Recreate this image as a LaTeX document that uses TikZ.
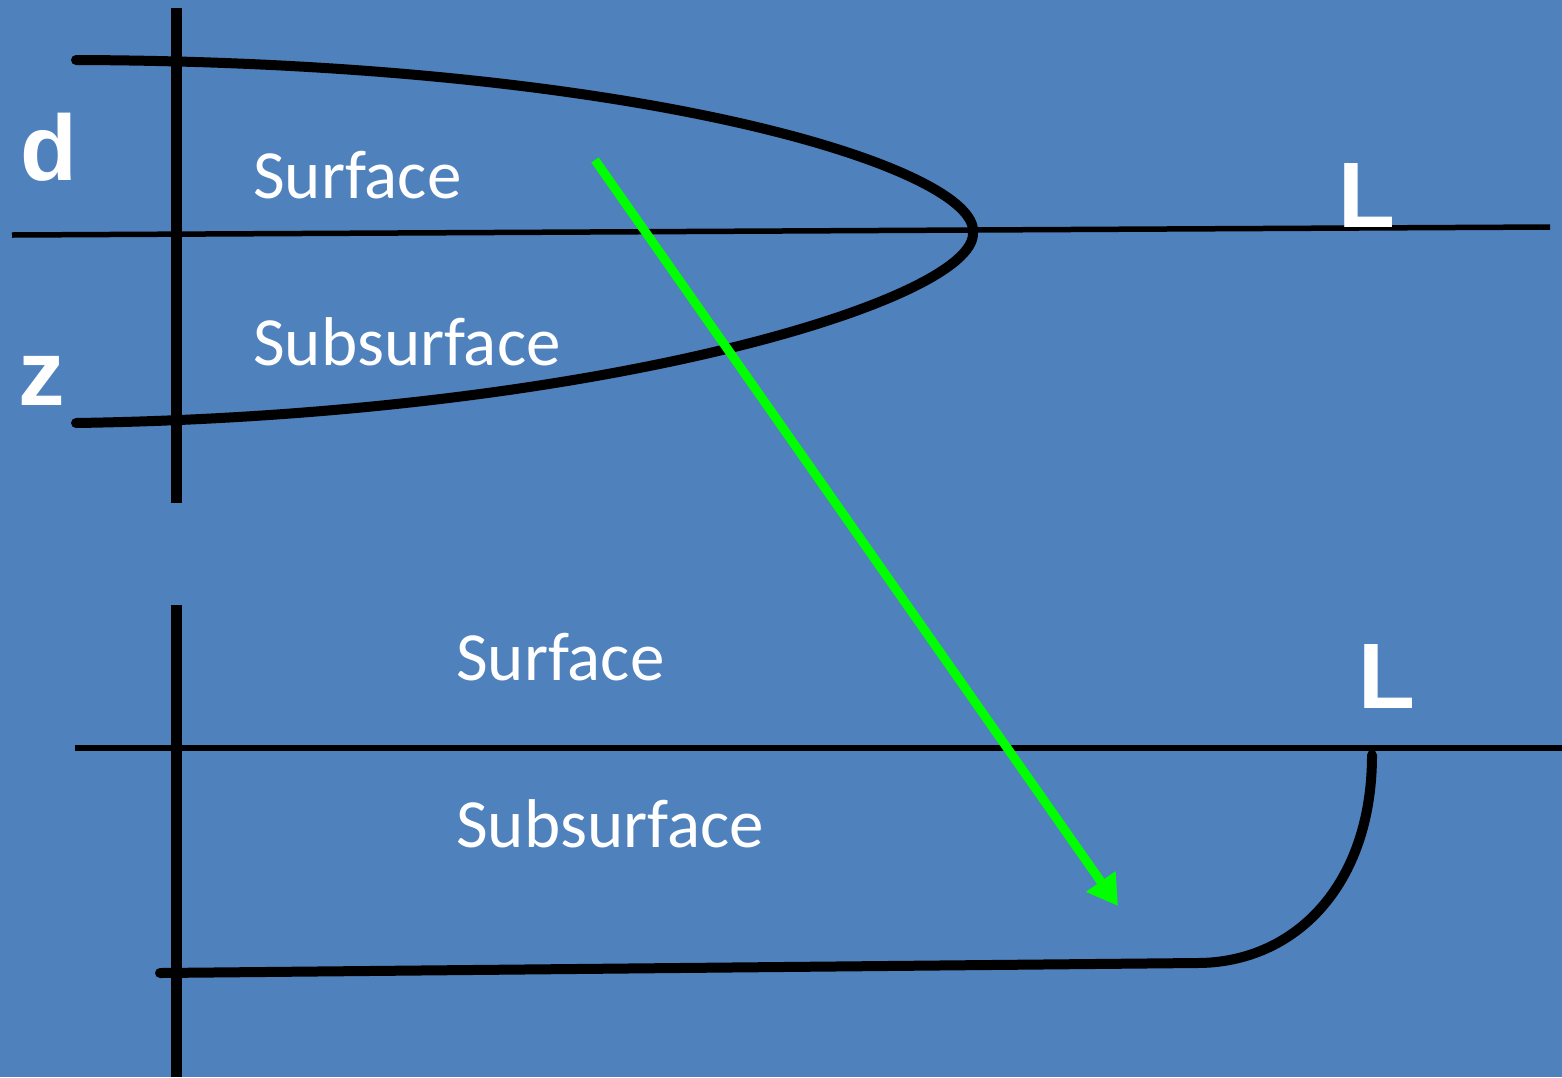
\documentclass[tikz,border=0pt]{standalone}
\usepackage{fontspec}
\setmainfont{Carlito}
\newfontfamily\labelfont{Liberation Sans}
\definecolor{bgcolor}{RGB}{79,129,189}
\definecolor{arrowcolor}{RGB}{0,255,0}
\usetikzlibrary{arrows.meta}

\begin{document}
\begin{tikzpicture}[x=1pt, y=-1pt,
  axis/.style={line width=11pt},
  level/.style={line width=5.5pt},
  profile/.style={line width=10pt, line cap=round},
  zone/.style={anchor=base west, inner sep=0pt, text=white, font=\fontsize{69}{80}\selectfont},
  letter/.style={anchor=base west, inner sep=0pt, text=white, font=\fontsize{93}{100}\selectfont\labelfont\bfseries}]
  % Background
  \fill[bgcolor] (0,0) rectangle (1562,1077);
  \useasboundingbox (0,0) rectangle (1562,1077);

  % Upper panel
  \draw[axis] (176,8) -- (176,503);
  \draw[level] (12,235) -- (1550,227);
  \draw[profile] (76,60) .. controls (650,62) and (980,170) .. (973,233)
                         .. controls (975,300) and (600,415) .. (76,423);
  \node[letter] (dTop) at (20,180) {d};
  \node[letter] (zTop) at (18,405) {z};
  \node[letter] (LTop) at (1338,227) {L};
  \node[zone] (surfTop) at (253,198) {Surface};
  \node[zone] (subTop) at (253,365) {Subsurface};

  % Lower panel
  \draw[axis] (176,605) -- (176,1077);
  \draw[level] (75,748) -- (1562,748);
  \draw[profile] (160,973) -- (1197,963)
                 .. controls (1295,963) and (1372,885) .. (1372,755);
  \node[letter] (LBot) at (1358,708) {L};
  \node[zone] (surfBot) at (456,680) {Surface};
  \node[zone] (subBot) at (456,847) {Subsurface};

  % Transition arrow
  \coordinate (arrStart) at (595,160);
  \coordinate (arrEnd) at (1118,906);
  \draw[arrowcolor, line width=9pt, -{Triangle[length=30pt, width=34pt]}] (arrStart) -- (arrEnd);
\end{tikzpicture}
\end{document}
